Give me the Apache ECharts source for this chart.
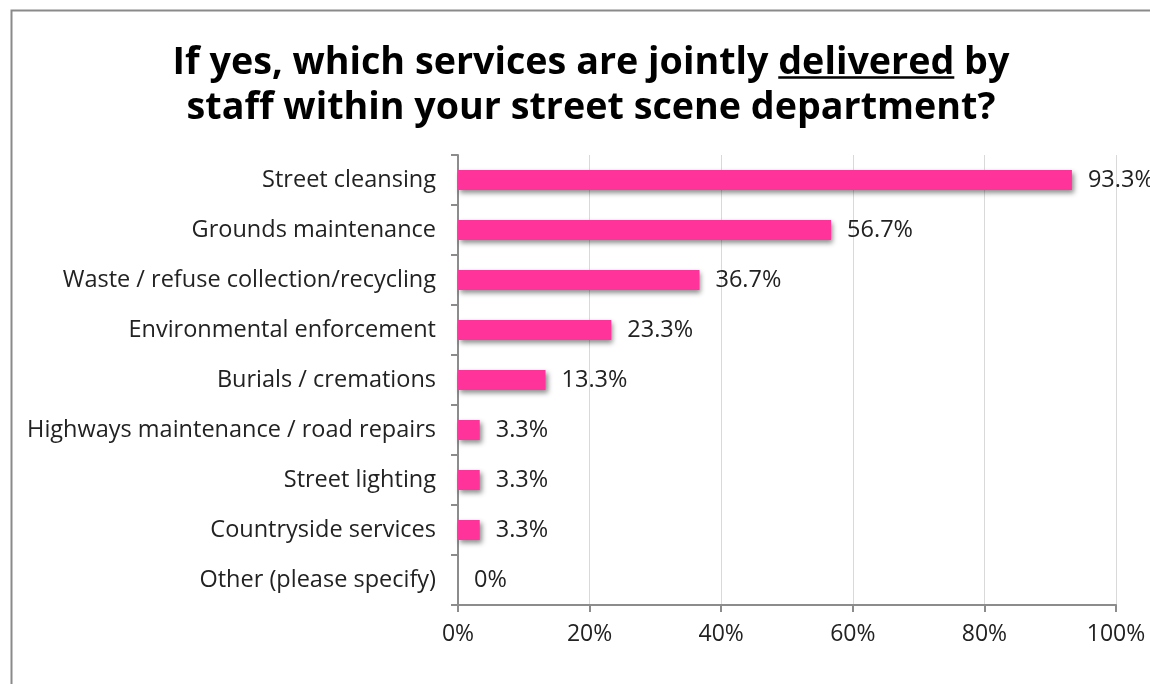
<!DOCTYPE html>
<html><head><meta charset="utf-8">
<script src="https://cdn.jsdelivr.net/npm/echarts@6/dist/echarts.min.js"></script>
<style>html,body{margin:0;padding:0;background:#fff}#c{width:1150px;height:684px}</style>
</head><body><div id="c"></div>
<script>
const categories = ['Street cleansing','Grounds maintenance','Waste / refuse collection/recycling','Environmental enforcement','Burials / cremations','Highways maintenance / road repairs','Street lighting','Countryside services','Other (please specify)'];
const values = [93.3, 56.7, 36.7, 23.3, 13.3, 3.3, 3.3, 3.3, 0];
const xTicks = [0, 20, 40, 60, 80, 100];
const titleLine1a = 'If yes, which services are jointly ';
const titleLine1b = 'delivered';
const titleLine1c = ' by';
const titleLine2 = 'staff within your street scene department?';

const FAM = '"Open Sans"';
const cv = document.createElement('canvas').getContext('2d');
cv.font = 'bold 100px ' + FAM;
const full100 = cv.measureText(titleLine1a + titleLine1b + titleLine1c).width;
const TS = Math.round(100 * 838 / full100 * 10) / 10;
const TF = 'bold ' + TS + 'px ' + FAM;
cv.font = TF;
const wA = cv.measureText(titleLine1a).width, wB = cv.measureText(titleLine1b).width, wC = cv.measureText(titleLine1c).width;
const cx = 591;
const l1 = wA + wB + wC;
const x0 = cx - l1 / 2;

const chart = echarts.init(document.getElementById('c'));
chart.setOption({
  backgroundColor: '#fff',
  animation: false,
  textStyle: { fontFamily: 'Open Sans' },
  graphic: [
    { type: 'rect', left: 9, top: 8, shape: { x: 0, y: 0, width: 1200, height: 720 }, style: { fill: 'none', stroke: '#8a8a8a', lineWidth: 2 } },
    { type: 'text', x: x0, y: 63, style: { text: titleLine1a + titleLine1b + titleLine1c, font: TF, fill: '#000', align: 'left', verticalAlign: 'middle' } },
    { type: 'text', x: cx, y: 108, style: { text: titleLine2, font: TF, fill: '#000', align: 'center', verticalAlign: 'middle' } },
    { type: 'line', shape: { x1: x0 + wA, y1: 77.5, x2: x0 + wA + wB, y2: 77.5 }, style: { stroke: '#000', lineWidth: 2.5 } }
  ],
  grid: { left: 458, right: 34, top: 155, bottom: 79, containLabel: false },
  xAxis: {
    type: 'value', min: 0, max: 100, interval: 20,
    axisLine: { show: true, lineStyle: { color: '#8c8c8c', width: 2 } },
    axisTick: { show: true, length: 7, lineStyle: { color: '#8c8c8c', width: 2 } },
    splitLine: { show: true, lineStyle: { color: '#d9d9d9', width: 1 } },
    axisLabel: { formatter: v => v + '%', color: '#222', fontSize: 23, margin: 18, fontFamily: 'Open Sans' }
  },
  yAxis: {
    type: 'category', data: categories, inverse: true,
    axisLine: { show: true, lineStyle: { color: '#8c8c8c', width: 2 } },
    axisTick: { show: true, length: 7, lineStyle: { color: '#8c8c8c', width: 2 } },
    axisLabel: { color: '#222', fontSize: 23.5, margin: 22, fontFamily: 'Open Sans' },
    splitLine: { show: false }
  },
  series: [{
    type: 'bar', data: values, barWidth: 20,
    itemStyle: { color: '#ff3399', shadowColor: 'rgba(0,0,0,0.45)', shadowBlur: 5, shadowOffsetX: 2, shadowOffsetY: 3 },
    label: { show: true, position: 'right', distance: 16, color: '#222', fontSize: 23.5, fontFamily: 'Open Sans',
      formatter: p => p.value === 0 ? '0%' : p.value.toFixed(1) + '%' }
  }]
});
</script></body></html>
